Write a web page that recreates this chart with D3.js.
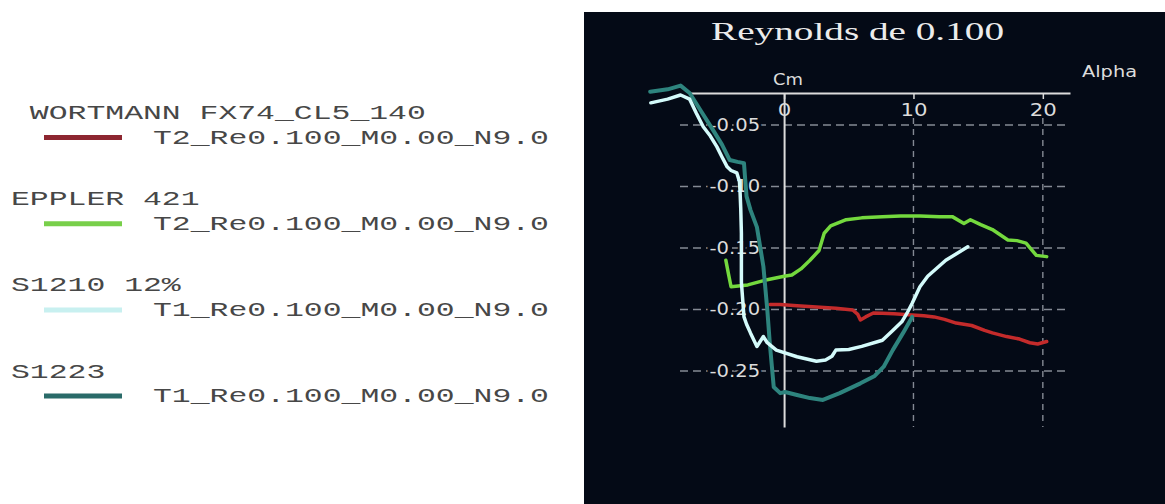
<!DOCTYPE html>
<html>
<head>
<meta charset="utf-8">
<script src="https://cdn.jsdelivr.net/npm/d3@7"></script>
<style>
  html, body { margin: 0; padding: 0; background: #ffffff; }
  svg { display: block; }
</style>
</head>
<body>
<svg id="chart" width="1165" height="504"></svg>
<script>
// Pitching-moment polars (Cm vs alpha) of four airfoils at Re = 0.100 million

const seriesNames = [" WORTMANN FX74_CL5_140", "EPPLER 421", "S1210 12%", "S1223"];
const seriesRuns  = ["T2_Re0.100_M0.00_N9.0", "T2_Re0.100_M0.00_N9.0",
                     "T1_Re0.100_M0.00_N9.0", "T1_Re0.100_M0.00_N9.0"];
const seriesColors = ["#c42b2b", "#74d93e", "#d4fbfb", "#2e847e"];
const legendColors = ["#8d2630", "#78cf4a", "#c8f0f0", "#2a6b69"];

const wortmannAlpha = [-1.1, -0.3, 1.0, 2.5, 4.0, 5.3, 5.7, 5.9, 6.3, 6.9, 7.6, 8.5, 9.9, 10.8,
                       11.6, 12.4, 13.3, 14.5, 15.5, 16.1, 17.2, 18.2, 19.0, 19.6, 20.3];
const wortmannCm    = [-0.196, -0.196, -0.197, -0.198, -0.199, -0.2004, -0.204, -0.2085, -0.206,
                       -0.2028, -0.203, -0.2035, -0.2045, -0.205, -0.206, -0.208, -0.211, -0.213,
                       -0.217, -0.219, -0.222, -0.224, -0.227, -0.228, -0.226];

const epplerAlpha = [-4.5, -4.3, -4.1, -2.8, -1.4, 0.0, 0.6, 1.3, 2.0, 2.7, 3.1, 3.6, 4.8, 6.0,
                     7.6, 9.0, 10.5, 12.0, 13.0, 13.9, 14.4, 15.2, 16.1, 17.3, 18.0, 18.7, 19.5, 20.3];
const epplerCm    = [-0.160, -0.171, -0.1815, -0.180, -0.176, -0.173, -0.172, -0.167, -0.160,
                     -0.152, -0.138, -0.132, -0.127, -0.1255, -0.1245, -0.124, -0.124, -0.1245,
                     -0.1245, -0.130, -0.127, -0.131, -0.135, -0.1435, -0.144, -0.146, -0.156, -0.157];

const s1210Alpha = [-10.3, -9.0, -8.0, -7.3, -6.8, -6.25, -5.7, -5.2, -4.8, -4.4, -4.1, -3.65,
                    -3.45, -3.4, -3.35, -3.3, -3.3, -3.1, -2.9, -2.6, -2.1, -1.6, -1.3, -0.6,
                    1.0, 2.5, 3.2, 3.7, 4.0, 5.0, 6.0, 7.6, 8.4, 9.1, 9.5, 9.9, 10.5, 11.1, 12.5, 14.2];
const s1210Cm    = [-0.032, -0.029, -0.0256, -0.029, -0.040, -0.0514, -0.059, -0.0676, -0.076,
                    -0.084, -0.087, -0.089, -0.096, -0.105, -0.118, -0.138, -0.178, -0.206,
                    -0.212, -0.219, -0.230, -0.222, -0.227, -0.233, -0.2384, -0.242, -0.241,
                    -0.238, -0.233, -0.2325, -0.230, -0.225, -0.217, -0.210, -0.203, -0.195,
                    -0.1815, -0.173, -0.160, -0.149];

const s1223Alpha = [-10.35, -9.0, -8.0, -7.3, -6.4, -5.5, -4.8, -4.2, -3.6, -3.1, -3.0, -2.9,
                    -2.6, -2.1, -1.6, -1.3, -1.1, -0.8, -0.3, 0.08, 1.0, 2.0, 3.0, 4.3, 5.9,
                    7.0, 7.7, 8.4, 9.2, 9.9];
const s1223Cm    = [-0.023, -0.021, -0.018, -0.024, -0.039, -0.054, -0.066, -0.0785, -0.080,
                    -0.081, -0.095, -0.108, -0.119, -0.133, -0.165, -0.200, -0.228, -0.263,
                    -0.268, -0.267, -0.2695, -0.272, -0.2735, -0.268, -0.260, -0.254, -0.2465,
                    -0.233, -0.219, -0.206];

const alphaTicks      = [0, 10, 20];
const alphaTickLabels = ["0", "10", "20"];
const cmTicks         = [-0.05, -0.10, -0.15, -0.20, -0.25];
const cmTickLabels    = ["-0.05", "-0.10", "-0.15", "-0.20", "-0.25"];

const titleText = "Reynolds de 0.100";
const xAxisName = "Alpha";
const yAxisName = "Cm";

// ---------------------------------------------------------------------------

const series = [
  { alpha: wortmannAlpha, cm: wortmannCm },
  { alpha: epplerAlpha,   cm: epplerCm },
  { alpha: s1210Alpha,    cm: s1210Cm },
  { alpha: s1223Alpha,    cm: s1223Cm }
].map((s, i) => ({
  name: seriesNames[i], run: seriesRuns[i],
  color: seriesColors[i], legendColor: legendColors[i],
  points: s.alpha.map((a, j) => [a, s.cm[j]])
}));

const svg = d3.select("#chart");
const panelColor = "#040a16";
const inkLight = "#dcdcdc";

// widen a text element horizontally by factor k (or to a fixed width)
function stretch(sel, k, fixed) {
  sel.each(function () {
    const w = fixed != null ? fixed : this.getComputedTextLength() * k;
    this.setAttribute("textLength", w);
    this.setAttribute("lengthAdjust", "spacingAndGlyphs");
  });
}

// dark plotting panel
svg.append("rect")
  .attr("x", 584).attr("y", 12)
  .attr("width", 1165 - 584).attr("height", 504 - 12)
  .attr("fill", panelColor);

const x = d3.scaleLinear().domain([-7.35, 22.1]).range([689, 1070]);
const y = d3.scaleLinear().domain([-0.024, -0.2955]).range([93, 427]);

const plotTop = y.range()[0], plotBottom = y.range()[1];

// dashed grid
const grid = svg.append("g")
  .attr("stroke", "#9ba1aa").attr("stroke-width", 1.4)
  .attr("stroke-opacity", 0.85).attr("fill", "none");
grid.selectAll("line.h").data(cmTicks).join("line")
  .attr("class", "h")
  .attr("x1", 680).attr("x2", 1068)
  .attr("y1", d => y(d)).attr("y2", d => y(d))
  .attr("stroke-dasharray", "8,5");
grid.selectAll("line.v").data(alphaTicks.filter(d => d !== 0)).join("line")
  .attr("class", "v")
  .attr("x1", d => x(d)).attr("x2", d => x(d))
  .attr("y1", plotTop + 25).attr("y2", plotBottom)
  .attr("stroke-dasharray", "6,5");

// alpha axis along the top
const xAxis = svg.append("g")
  .attr("transform", `translate(0,${plotTop})`)
  .call(d3.axisBottom(x)
    .tickValues(alphaTicks)
    .tickFormat((d, i) => alphaTickLabels[i])
    .tickSize(6).tickSizeOuter(0).tickPadding(5));
xAxis.select(".domain").attr("stroke", inkLight).attr("stroke-width", 2);
xAxis.selectAll(".tick line").attr("stroke", inkLight).attr("stroke-width", 1.5);
xAxis.selectAll(".tick text")
  .attr("fill", inkLight)
  .style("font-family", "'DejaVu Sans', Verdana, sans-serif")
  .style("font-size", "17px")
  .call(stretch, 1.25);

// Cm axis at alpha = 0
const yAxis = svg.append("g")
  .attr("transform", `translate(${x(0)},0)`)
  .call(d3.axisLeft(y)
    .tickValues(cmTicks)
    .tickFormat((d, i) => cmTickLabels[i])
    .tickSize(0).tickSizeOuter(0).tickPadding(24));
yAxis.select(".domain").attr("stroke", inkLight).attr("stroke-width", 2);
yAxis.selectAll(".tick text")
  .attr("fill", inkLight)
  .attr("stroke", panelColor).attr("stroke-width", 5)
  .style("paint-order", "stroke")
  .style("font-family", "'DejaVu Sans', Verdana, sans-serif")
  .style("font-size", "17px")
  .call(stretch, 1.15);

// axis names and title
svg.append("text")
  .attr("x", 773).attr("y", 85)
  .attr("fill", inkLight)
  .style("font-family", "'DejaVu Sans', Verdana, sans-serif")
  .style("font-size", "15px")
  .text(yAxisName)
  .call(stretch, 1, 30);
svg.append("text")
  .attr("x", 1082).attr("y", 77)
  .attr("fill", inkLight)
  .style("font-family", "'DejaVu Sans', Verdana, sans-serif")
  .style("font-size", "15px")
  .text(xAxisName)
  .call(stretch, 1, 55);
svg.append("text")
  .attr("x", 711).attr("y", 40)
  .attr("fill", "#ececec")
  .style("font-family", "'Liberation Serif', 'Times New Roman', serif")
  .style("font-size", "26px")
  .text(titleText)
  .call(stretch, 1, 293);

// polar curves
const line = d3.line().x(d => x(d[0])).y(d => y(d[1]));
const drawOrder = [0, 1, 3, 2];
svg.append("g")
  .attr("fill", "none")
  .attr("stroke-linejoin", "round")
  .attr("stroke-linecap", "round")
  .selectAll("path")
  .data(drawOrder.map(i => series[i]))
  .join("path")
  .attr("d", d => line(d.points))
  .attr("stroke", d => d.color)
  .attr("stroke-width", d => (d.name === "S1223" ? 4 : 3.5));

// legend
const legend = svg.append("g")
  .style("font-family", "'Liberation Mono', 'Courier New', monospace")
  .style("font-size", "20px");
const rowStep = 86.2;
const rows = legend.selectAll("g.row").data(series).join("g")
  .attr("class", "row")
  .attr("transform", (d, i) => `translate(0,${i * rowStep})`);
rows.append("text")
  .attr("x", 11).attr("y", 119)
  .attr("fill", "#474747")
  .attr("xml:space", "preserve")
  .style("white-space", "pre")
  .text(d => d.name)
  .call(stretch, 1.571);
rows.append("line")
  .attr("x1", 44).attr("x2", 122)
  .attr("y1", 137.5).attr("y2", 137.5)
  .attr("stroke", d => d.legendColor)
  .attr("stroke-width", 5);
rows.append("text")
  .attr("x", 153).attr("y", 143.5)
  .attr("fill", "#474747")
  .text(d => d.run)
  .call(stretch, 1.571);
</script>
</body>
</html>
